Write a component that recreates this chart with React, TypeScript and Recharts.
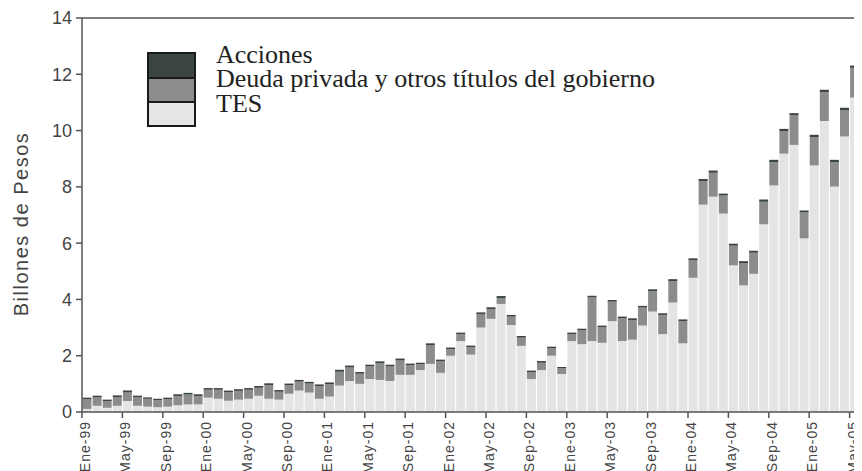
import { BarChart, Bar, XAxis, YAxis, ReferenceLine, Label } from 'recharts';

// monthly categories, Ene-99 .. Jun-05 (last one is cut off by the frame)
const months = [
  'Ene-99', 'Feb-99', 'Mar-99', 'Abr-99', 'May-99', 'Jun-99', 'Jul-99', 'Ago-99', 'Sep-99', 'Oct-99', 'Nov-99', 'Dic-99',
  'Ene-00', 'Feb-00', 'Mar-00', 'Abr-00', 'May-00', 'Jun-00', 'Jul-00', 'Ago-00', 'Sep-00', 'Oct-00', 'Nov-00', 'Dic-00',
  'Ene-01', 'Feb-01', 'Mar-01', 'Abr-01', 'May-01', 'Jun-01', 'Jul-01', 'Ago-01', 'Sep-01', 'Oct-01', 'Nov-01', 'Dic-01',
  'Ene-02', 'Feb-02', 'Mar-02', 'Abr-02', 'May-02', 'Jun-02', 'Jul-02', 'Ago-02', 'Sep-02', 'Oct-02', 'Nov-02', 'Dic-02',
  'Ene-03', 'Feb-03', 'Mar-03', 'Abr-03', 'May-03', 'Jun-03', 'Jul-03', 'Ago-03', 'Sep-03', 'Oct-03', 'Nov-03', 'Dic-03',
  'Ene-04', 'Feb-04', 'Mar-04', 'Abr-04', 'May-04', 'Jun-04', 'Jul-04', 'Ago-04', 'Sep-04', 'Oct-04', 'Nov-04', 'Dic-04',
  'Ene-05', 'Feb-05', 'Mar-05', 'Abr-05', 'May-05', 'Jun-05',
];

const tes = [
  0.11, 0.22, 0.15, 0.22, 0.39, 0.22, 0.19, 0.17, 0.19, 0.24, 0.27, 0.27,
  0.51, 0.47, 0.40, 0.44, 0.47, 0.58, 0.47, 0.44, 0.65, 0.76, 0.69, 0.47,
  0.55, 0.94, 1.10, 1.00, 1.17, 1.14, 1.10, 1.32, 1.32, 1.49, 1.71, 1.39,
  2.00, 2.52, 2.04, 3.00, 3.31, 3.84, 3.09, 2.35, 1.17, 1.49, 2.00, 1.35,
  2.52, 2.41, 2.52, 2.46, 3.23, 2.52, 2.57, 3.07, 3.57, 2.77, 3.89, 2.44,
  4.77, 7.37, 7.65, 7.05, 5.21, 4.50, 4.91, 6.67, 8.05, 9.18, 9.49, 6.17,
  8.76, 10.34, 8.01, 9.79, 11.17, 11.74,
];

const deuda = [
  0.35, 0.30, 0.24, 0.31, 0.30, 0.30, 0.28, 0.25, 0.27, 0.33, 0.35, 0.30,
  0.28, 0.32, 0.30, 0.31, 0.32, 0.28, 0.48, 0.28, 0.30, 0.32, 0.32, 0.45,
  0.44, 0.49, 0.48, 0.36, 0.45, 0.59, 0.52, 0.51, 0.34, 0.21, 0.67, 0.41,
  0.23, 0.24, 0.26, 0.47, 0.34, 0.21, 0.30, 0.29, 0.24, 0.26, 0.26, 0.20,
  0.24, 0.49, 1.55, 0.55, 0.69, 0.81, 0.70, 0.64, 0.72, 0.68, 0.76, 0.79,
  0.62, 0.83, 0.85, 0.64, 0.70, 0.78, 0.75, 0.80, 0.83, 0.80, 1.05, 0.92,
  1.01, 1.03, 0.87, 0.94, 1.06, 1.17,
];

const acciones = [
  0.05, 0.06, 0.05, 0.06, 0.07, 0.06, 0.05, 0.05, 0.05, 0.06, 0.06, 0.06,
  0.06, 0.06, 0.06, 0.06, 0.06, 0.06, 0.07, 0.06, 0.06, 0.06, 0.06, 0.06,
  0.06, 0.07, 0.07, 0.06, 0.06, 0.07, 0.06, 0.07, 0.06, 0.05, 0.06, 0.06,
  0.06, 0.06, 0.06, 0.07, 0.07, 0.07, 0.06, 0.06, 0.06, 0.06, 0.06, 0.05,
  0.06, 0.06, 0.06, 0.06, 0.06, 0.06, 0.06, 0.06, 0.07, 0.06, 0.07, 0.06,
  0.07, 0.08, 0.08, 0.07, 0.07, 0.08, 0.07, 0.08, 0.08, 0.08, 0.08, 0.07,
  0.08, 0.08, 0.08, 0.08, 0.08, 0.08,
];

const yTicks = [0, 2, 4, 6, 8, 10, 12, 14];

const data = months.map((m, i) => ({
  month: m,
  tes: tes[i],
  deuda: deuda[i],
  acciones: acciones[i],
}));

const AXIS = '#555';
const TEXT = '#444';
const SANS = '"Liberation Sans", Arial, sans-serif';
const HALF_BAND = 5.05; // ticks sit on the left edge of each month

function MonthTick(props: any) {
  const { x, y, payload } = props;
  const tx = x - HALF_BAND;
  const lx = tx + 3;
  const ly = y + 9;
  return (
    <g>
      <line x1={tx} y1={y} x2={tx} y2={y + 6} stroke={AXIS} strokeWidth={1.5} />
      <text
        x={lx}
        y={ly}
        transform={`rotate(-90 ${lx} ${ly})`}
        textAnchor="end"
        dominantBaseline="central"
        fontFamily={SANS}
        fontSize={14}
        letterSpacing={1}
        fill={TEXT}
      >
        {payload.value}
      </text>
    </g>
  );
}

function YTitle() {
  const cy = 224;
  return (
    <text
      x={21}
      y={cy}
      transform={`rotate(-90 21 ${cy})`}
      textAnchor="middle"
      dominantBaseline="central"
      fontFamily={SANS}
      fontSize={20}
      letterSpacing={1.5}
      fill={TEXT}
    >
      Billones de Pesos
    </text>
  );
}

const legendItems = [
  { name: 'Acciones', color: '#3b4543' },
  { name: 'Deuda privada y otros títulos del gobierno', color: '#8c8c8c' },
  { name: 'TES', color: '#e6e6e6' },
];

export default function App() {
  return (
    <div style={{ position: 'relative', width: 862, height: 471, overflow: 'hidden', margin: '-8px 0 0 -8px' }}>
      <BarChart
        width={880}
        height={471}
        data={data}
        margin={{ top: 18, right: 10.2, bottom: 0, left: 0 }}
        barCategoryGap={0.5}
      >
        <XAxis
          dataKey="month"
          interval={3}
          tickLine={false}
          tickSize={0}
          tickMargin={0}
          height={59}
          tick={<MonthTick />}
          axisLine={{ stroke: AXIS, strokeWidth: 1.5 }}
        />
        <YAxis
          domain={[0, 14]}
          ticks={yTicks}
          width={82}
          tickSize={6}
          tickMargin={4}
          axisLine={{ stroke: AXIS, strokeWidth: 1.5 }}
          tickLine={{ stroke: AXIS, strokeWidth: 1.5 }}
          tick={{ fill: TEXT, fontSize: 18, fontFamily: SANS }}
        >
          <Label content={<YTitle />} />
        </YAxis>
        <ReferenceLine y={14} stroke={AXIS} strokeWidth={1.5} />
        <Bar dataKey="tes" stackId="a" fill="#e4e4e4" isAnimationActive={false} />
        <Bar dataKey="deuda" stackId="a" fill="#8c8c8c" isAnimationActive={false} />
        <Bar dataKey="acciones" stackId="a" fill="#3b4543" isAnimationActive={false} />
      </BarChart>

      <div style={{ position: 'absolute', left: 147, top: 52, display: 'flex' }}>
        <div style={{ width: 45, border: '2px solid #1a1a1a' }}>
          {legendItems.map((it, i) => (
            <div
              key={it.name}
              style={{
                height: i === 0 ? 23 : 22,
                background: it.color,
                borderTop: i === 0 ? 'none' : '2px solid #1a1a1a',
              }}
            />
          ))}
        </div>
        <div
          style={{
            marginLeft: 20,
            marginTop: -9.5,
            fontFamily: '"Liberation Serif", "Times New Roman", serif',
            fontSize: 26,
            lineHeight: '24.5px',
            color: '#222',
            whiteSpace: 'nowrap',
          }}
        >
          {legendItems.map((it) => (
            <div key={it.name}>{it.name}</div>
          ))}
        </div>
      </div>
    </div>
  );
}
